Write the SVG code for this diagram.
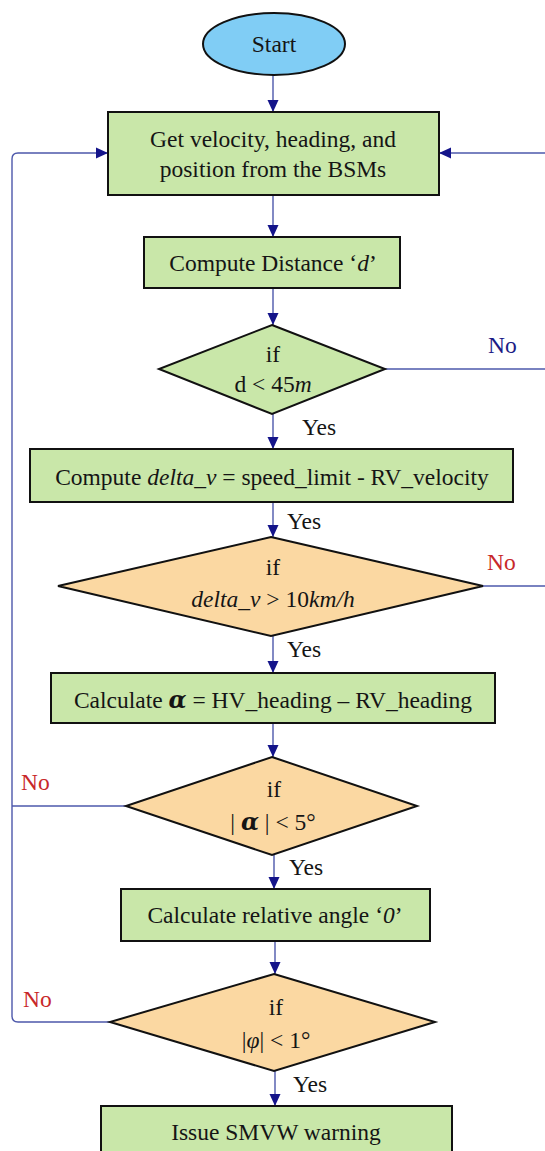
<svg xmlns="http://www.w3.org/2000/svg" width="545" height="1151" viewBox="0 0 545 1151">
  <style>
    .proc { fill: #c9e7a9; stroke: #111; stroke-width: 2; }
    .decG { fill: #c9e7a9; stroke: #111; stroke-width: 2; }
    .decO { fill: #fbd8a2; stroke: #111; stroke-width: 2; }
    .term { fill: #80cdf5; stroke: #111; stroke-width: 2; }
    text { font-size: 23.5px; fill: #151515; text-anchor: middle; }
    .lbl { text-anchor: start; }
    .noB { fill: #1c1c86; }
    .noR { fill: #c8282a; }
    .conn { fill: none; stroke: #4d58ab; stroke-width: 1.4; }
    .arr { marker-end: url(#head); }
    .it { font-style: italic; }
    .greek { font-style: italic; font-weight: bold; }
  </style>
  <defs>
    <marker id="head" markerUnits="userSpaceOnUse" markerWidth="12" markerHeight="12" refX="12" refY="6" orient="auto">
      <path d="M0,0.5 L12,6 L0,11.5 Z" fill="#14148a"/>
    </marker>
  </defs>

  <rect width="545" height="1151" fill="#ffffff"/>

  <!-- connectors -->
  <g id="connectors">
    <path class="conn arr" d="M273,75 V112"/>
    <path class="conn arr" d="M273,195 V237"/>
    <path class="conn arr" d="M273,288 V325"/>
    <path class="conn arr" d="M273,414 V449"/>
    <path class="conn arr" d="M273,502 V537"/>
    <path class="conn arr" d="M273,636 V673"/>
    <path class="conn arr" d="M273,723 V757"/>
    <path class="conn arr" d="M274,855 V889"/>
    <path class="conn arr" d="M275,941 V974"/>
    <path class="conn arr" d="M275,1071 V1106"/>
    <!-- "No" exits to the right -->
    <path class="conn" d="M385,369 H545"/>
    <path class="conn" d="M483,586 H545"/>
    <path class="conn arr" d="M545,153 H439"/>
    <!-- "No" loop back on the left -->
    <path class="conn arr" d="M110,1022 H18 Q12,1022 12,1016 V159 Q12,153 18,153 H108"/>
    <path class="conn" d="M126,806 H12"/>
  </g>

  <g font-family="Liberation Serif, Times New Roman, serif">
    <g id="start">
      <ellipse class="term" cx="274" cy="44" rx="71" ry="31"/>
      <text x="274" y="52">Start</text>
    </g>

    <g id="get-bsm">
      <rect class="proc" x="108" y="112" width="331" height="83"/>
      <text x="273" y="147">Get velocity, heading, and</text>
      <text x="273" y="177">position from the BSMs</text>
    </g>

    <g id="compute-distance">
      <rect class="proc" x="144" y="237" width="256" height="51"/>
      <text x="273" y="271">Compute Distance ‘<tspan class="it">d</tspan>’</text>
    </g>

    <g id="check-distance">
      <polygon class="decG" points="272,325 385,369 272,414 159,369"/>
      <text x="273" y="362">if</text>
      <text x="273" y="392">d &lt; 45<tspan class="it">m</tspan></text>
      <text class="lbl noB" x="488" y="353">No</text>
      <text class="lbl" x="302" y="435">Yes</text>
    </g>

    <g id="compute-delta">
      <rect class="proc" x="30" y="449" width="483" height="53"/>
      <text x="272" y="485">Compute <tspan class="it">delta_v</tspan> = speed_limit - RV_velocity</text>
      <text class="lbl" x="287" y="529">Yes</text>
    </g>

    <g id="check-delta">
      <polygon class="decO" points="271,537 483,586 271,636 58,586"/>
      <text x="273" y="575">if</text>
      <text x="273" y="607"><tspan class="it">delta_v</tspan> &gt; 10<tspan class="it">km/h</tspan></text>
      <text class="lbl noR" x="487" y="570">No</text>
      <text class="lbl" x="287" y="657">Yes</text>
    </g>

    <g id="calc-alpha">
      <rect class="proc" x="51" y="673" width="444" height="50"/>
      <text x="273" y="708">Calculate <tspan class="greek" font-family="DejaVu Serif, serif">α</tspan> = HV_heading – RV_heading</text>
    </g>

    <g id="check-alpha">
      <polygon class="decO" points="272,757 417,806 272,855 126,806"/>
      <text x="274" y="797">if</text>
      <text x="273" y="830">| <tspan class="greek" font-family="DejaVu Serif, serif">α</tspan> | &lt; 5°</text>
      <text class="lbl noR" x="21" y="790">No</text>
      <text class="lbl" x="289" y="875">Yes</text>
    </g>

    <g id="calc-relative">
      <rect class="proc" x="121" y="889" width="309" height="52"/>
      <text x="275" y="923">Calculate relative angle ‘<tspan class="it">0</tspan>’</text>
    </g>

    <g id="check-phi">
      <polygon class="decO" points="274,974 435,1022 274,1071 110,1022"/>
      <text x="276" y="1015">if</text>
      <text x="276" y="1048">|<tspan class="it">φ</tspan>| &lt; 1°</text>
      <text class="lbl noR" x="23" y="1007">No</text>
      <text class="lbl" x="293" y="1092">Yes</text>
    </g>

    <g id="issue-warning">
      <rect class="proc" x="101" y="1106" width="351" height="60"/>
      <text x="276" y="1140">Issue SMVW warning</text>
    </g>
  </g>
</svg>
